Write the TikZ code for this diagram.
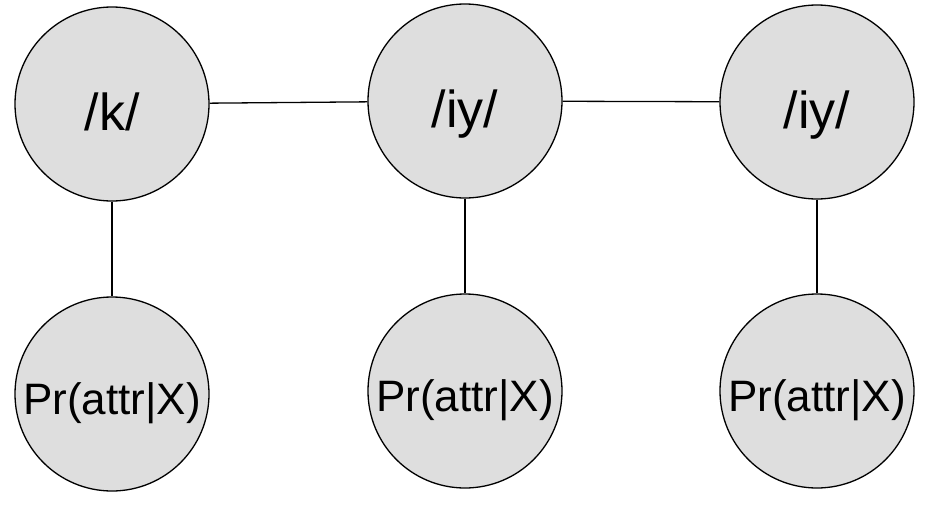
\documentclass[tikz,border=0pt]{standalone}
\usepackage{fontspec}
\setmainfont{Liberation Sans}
\begin{document}
\begin{tikzpicture}[x=1pt,y=-1pt,
  var/.style={circle,draw=black,line width=1.3pt,fill=black!13,minimum size=194pt,inner sep=0pt,
    text depth=0pt},
  phone/.style={var,font=\fontsize{52}{54}\selectfont,text height=52pt},
  attr/.style={var,font=\fontsize{44}{46}\selectfont,text height=40pt},
  link/.style={line width=1.3pt}]
\useasboundingbox (0,0) rectangle (935,504);
\node[phone] (k) at (112,104) {/k/};
\node[phone] (iy1) at (465,101) {/iy/};
\node[phone] (iy2) at (817,102) {/iy/};
\node[attr] (p1) at (112,394) {Pr(attr|X)};
\node[attr] (p2) at (465,391) {Pr(attr|X)};
\node[attr] (p3) at (817,391) {Pr(attr|X)};
\draw[link] (k) -- (iy1);
\draw[link] (iy1) -- (iy2);
\draw[link] (k) -- (p1);
\draw[link] (iy1) -- (p2);
\draw[link] (iy2) -- (p3);
\end{tikzpicture}
\end{document}
